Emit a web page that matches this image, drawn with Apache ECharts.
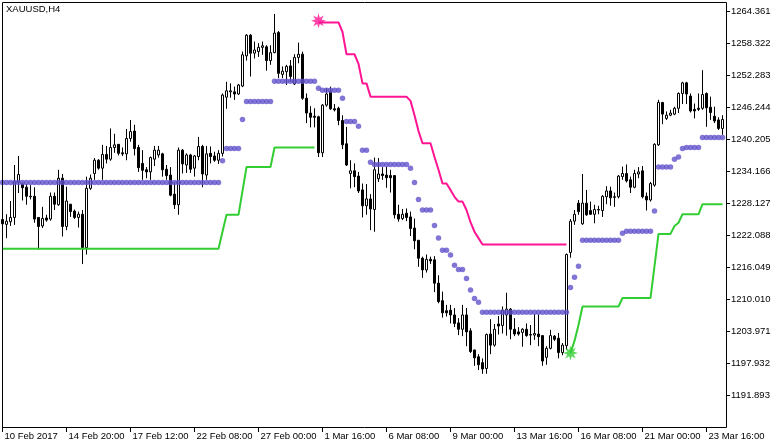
<!DOCTYPE html>
<html><head><meta charset="utf-8">
<script src="https://cdn.jsdelivr.net/npm/echarts@6/dist/echarts.min.js"></script>
<style>html,body{margin:0;padding:0;background:#fff;}#c{width:783px;height:447px;}</style>
</head><body><div id="c"></div>
<script>
const symbolName = 'XAUUSD,H4';
const dateLabels = ['10 Feb 2017','14 Feb 20:00','17 Feb 12:00','22 Feb 08:00','27 Feb 00:00','1 Mar 16:00','6 Mar 08:00','9 Mar 00:00','13 Mar 16:00','16 Mar 08:00','21 Mar 00:00','23 Mar 16:00'];
const labelStep = 16;
const priceTicks = [1191.893,1197.932,1203.971,1210.010,1216.049,1222.088,1228.127,1234.166,1240.205,1246.244,1252.283,1258.322,1264.361];
const priceMin = 1185.854;
const priceMax = 1265.871;

const open = [
1225.0,1224.1,1224.6,1225.4,1232.1,1231.7,1231.1,1229.4,1229.4,1225.4,
1223.8,1225.3,1225.1,1229.4,1227.8,1232.8,1223.7,1227.9,1226.6,1225.4,
1226.0,1219.7,1230.9,1233.7,1236.2,1234.7,1237.3,1236.4,1238.6,1239.2,
1237.6,1237.4,1240.3,1241.7,1238.6,1235.6,1234.4,1234.0,1236.4,1237.2,
1237.4,1234.5,1233.4,1229.8,1227.8,1238.1,1235.3,1237.2,1234.7,1236.9,
1238.8,1233.4,1237.5,1237.0,1236.2,1237.5,1248.1,1249.1,1249.1,1248.7,
1250.2,1255.9,1259.8,1256.4,1256.7,1257.5,1257.6,1255.0,1256.5,1260.3,
1252.4,1252.9,1254.0,1250.6,1255.6,1256.2,1247.9,1245.1,1244.5,1244.4,
1237.6,1246.6,1249.1,1245.9,1246.0,1243.7,1239.3,1233.7,1234.2,1233.2,
1230.6,1227.6,1228.9,1226.9,1232.7,1233.6,1233.4,1233.3,1233.3,1226.0,
1225.2,1226.2,1225.5,1223.4,1221.1,1217.7,1215.5,1217.5,1217.4,1213.0,
1209.7,1207.8,1207.9,1207.0,1205.5,1204.3,1207.0,1204.0,1200.4,1199.1,
1198.0,1196.9,1203.4,1201.3,1205.3,1205.0,1207.0,1208.1,1204.3,1203.8,
1203.7,1204.3,1203.3,1203.2,1203.4,1203.1,1199.0,1200.7,1203.0,1202.6,
1199.9,1201.2,1218.8,1224.7,1228.1,1224.2,1228.1,1226.7,1226.0,1226.9,
1226.7,1229.3,1230.4,1229.3,1229.3,1233.1,1233.7,1232.5,1231.1,1233.6,
1234.2,1229.4,1228.7,1231.5,1239.1,1247.1,1244.1,1244.7,1244.9,1246.0,
1248.8,1250.8,1248.3,1245.8,1246.0,1246.0,1248.8,1246.2,1244.5,1243.8,
1242.2];
const close = [
1224.2,1224.7,1225.4,1232.1,1233.5,1231.0,1229.4,1229.3,1225.1,1223.7,
1225.2,1224.9,1229.4,1227.9,1232.8,1223.7,1228.5,1226.5,1225.4,1226.0,
1219.7,1230.9,1232.8,1236.2,1234.7,1237.3,1236.4,1238.6,1239.1,1237.5,
1237.4,1240.3,1241.6,1238.4,1234.8,1234.3,1234.0,1236.7,1238.1,1238.1,
1234.4,1233.3,1229.6,1227.8,1238.1,1235.5,1237.2,1234.5,1237.0,1238.8,
1233.6,1237.4,1236.9,1236.2,1237.5,1248.5,1249.3,1249.3,1248.7,1250.4,
1256.1,1259.8,1256.4,1257.0,1257.5,1257.8,1255.0,1256.5,1260.2,1252.6,
1253.0,1253.9,1252.0,1255.6,1256.2,1247.9,1245.1,1244.3,1244.3,1237.6,
1246.6,1248.7,1245.9,1245.7,1243.7,1239.1,1235.3,1234.2,1233.1,1230.4,
1227.6,1228.9,1227.0,1234.4,1233.6,1233.3,1232.9,1232.9,1225.9,1225.1,
1226.0,1225.4,1223.3,1221.0,1217.7,1215.5,1217.5,1217.2,1213.0,1209.5,
1207.4,1207.4,1207.0,1205.4,1204.3,1207.0,1203.8,1200.1,1198.9,1197.6,
1196.8,1203.3,1201.3,1204.3,1204.9,1207.9,1208.1,1204.3,1203.4,1203.4,
1204.3,1203.1,1203.2,1203.5,1202.9,1198.3,1200.7,1203.1,1202.4,1199.9,
1201.3,1218.4,1224.7,1226.0,1226.5,1228.1,1225.9,1226.0,1226.9,1226.8,
1229.4,1230.4,1229.1,1229.2,1233.2,1233.7,1232.3,1231.1,1233.7,1234.0,
1229.3,1228.7,1231.8,1239.2,1247.1,1244.9,1244.7,1245.1,1246.0,1248.8,
1250.8,1248.7,1245.5,1245.5,1245.8,1248.6,1246.1,1245.2,1243.6,1242.2,
1243.9];
const low = [
1223.8,1221.5,1223.8,1224.0,1230.0,1228.6,1227.8,1228.8,1224.4,1219.3,
1223.4,1224.6,1224.8,1226.8,1227.6,1221.8,1223.0,1225.5,1225.1,1223.5,
1216.6,1218.4,1230.6,1232.5,1234.4,1232.5,1235.6,1236.1,1237.6,1237.1,
1237.0,1236.2,1239.7,1237.1,1234.0,1232.5,1232.8,1232.5,1235.1,1236.7,
1233.1,1232.5,1229.4,1227.0,1225.9,1233.7,1233.8,1233.8,1233.1,1236.2,
1231.1,1232.5,1235.6,1235.9,1235.5,1236.9,1245.9,1248.0,1247.6,1248.5,
1250.0,1255.0,1252.0,1255.4,1255.7,1256.1,1253.1,1254.2,1256.4,1251.7,
1251.7,1250.4,1251.0,1250.4,1254.5,1247.6,1243.2,1242.4,1242.4,1236.8,
1236.8,1246.3,1245.7,1245.4,1242.8,1238.3,1235.1,1230.9,1231.1,1230.0,
1225.4,1225.9,1223.0,1222.7,1232.1,1232.5,1231.0,1230.1,1225.2,1224.6,
1224.9,1224.7,1221.9,1219.4,1216.1,1214.0,1215.0,1216.6,1211.3,1209.2,
1206.5,1206.7,1205.4,1204.7,1203.2,1203.0,1201.1,1199.8,1197.4,1196.6,
1195.9,1195.9,1199.6,1201.0,1203.3,1203.5,1203.1,1202.4,1203.0,1203.1,
1201.0,1202.9,1201.3,1202.3,1201.1,1197.4,1197.6,1200.5,1202.1,1198.8,
1199.4,1200.4,1217.8,1224.0,1225.9,1224.0,1225.7,1225.9,1224.3,1226.0,
1225.5,1227.9,1227.6,1227.4,1229.0,1232.5,1232.0,1230.0,1230.9,1232.8,
1229.0,1226.7,1228.4,1231.2,1238.9,1243.0,1243.8,1244.5,1244.7,1245.1,
1246.8,1246.8,1245.2,1244.1,1245.5,1245.7,1242.5,1243.8,1243.2,1241.9,
1241.0];
const high = [
1225.3,1226.0,1228.5,1235.3,1237.0,1232.0,1231.7,1231.5,1231.1,1225.4,
1227.4,1225.9,1230.1,1230.1,1234.4,1233.6,1231.2,1227.9,1226.9,1226.5,
1226.8,1233.1,1233.5,1236.6,1236.4,1239.1,1238.9,1242.2,1241.2,1239.2,
1238.6,1242.1,1243.8,1242.9,1239.1,1238.1,1234.9,1236.9,1238.9,1238.9,
1237.6,1235.3,1234.9,1232.1,1238.6,1238.3,1237.5,1237.4,1237.2,1240.6,
1239.1,1238.9,1238.8,1237.8,1238.1,1248.8,1251.0,1250.7,1250.1,1250.6,
1256.7,1260.0,1260.0,1258.6,1258.3,1258.6,1257.9,1257.9,1263.8,1260.6,
1253.9,1254.2,1255.1,1256.2,1258.4,1256.7,1248.8,1246.4,1246.0,1244.6,
1246.8,1249.8,1250.1,1246.8,1246.3,1244.7,1242.5,1236.2,1235.6,1234.0,
1231.8,1231.7,1229.8,1236.7,1236.6,1234.9,1235.0,1234.4,1233.4,1227.8,
1227.0,1227.1,1226.5,1225.2,1221.1,1218.0,1218.4,1218.0,1218.1,1214.5,
1211.4,1208.9,1208.9,1208.3,1206.4,1208.9,1208.3,1204.5,1200.4,1199.6,
1198.8,1203.5,1206.2,1205.3,1206.8,1208.6,1211.2,1208.3,1206.4,1204.7,
1204.5,1205.4,1205.1,1207.2,1207.1,1203.1,1201.1,1204.2,1203.2,1203.6,
1201.7,1218.6,1225.1,1226.8,1228.7,1233.6,1230.6,1228.4,1227.8,1227.6,
1229.6,1231.3,1231.2,1230.1,1233.4,1235.0,1235.4,1233.1,1234.4,1234.9,
1235.1,1230.1,1232.1,1239.4,1247.6,1247.2,1245.4,1245.7,1246.3,1249.0,
1251.0,1251.0,1248.8,1246.9,1248.8,1253.2,1249.0,1248.2,1246.3,1244.3,
1244.7];

const stepDots = [
1232.0,1232.0,1232.0,1232.0,1232.0,1232.0,1232.0,1232.0,1232.0,1232.0,
1232.0,1232.0,1232.0,1232.0,1232.0,1232.0,1232.0,1232.0,1232.0,1232.0,
1232.0,1232.0,1232.0,1232.0,1232.0,1232.0,1232.0,1232.0,1232.0,1232.0,
1232.0,1232.0,1232.0,1232.0,1232.0,1232.0,1232.0,1232.0,1232.0,1232.0,
1232.0,1232.0,1232.0,1232.0,1232.0,1232.0,1232.0,1232.0,1232.0,1232.0,
1232.0,1232.0,1232.0,1232.0,1232.0,1236.1,1238.4,1238.4,1238.4,1238.4,
1243.9,1247.3,1247.3,1247.3,1247.3,1247.3,1247.3,1247.3,1251.1,1251.1,
1251.1,1251.1,1251.1,1251.1,1251.1,1251.1,1251.1,1251.1,1251.1,1249.8,
1249.4,1249.4,1249.4,1249.4,1249.4,1247.9,1243.5,1243.5,1243.5,1242.6,
1238.1,1238.1,1235.8,1235.4,1235.4,1235.4,1235.4,1235.4,1235.4,1235.4,
1235.4,1235.4,1234.7,1232.0,1228.8,1226.8,1226.8,1226.8,1223.9,1221.5,
1219.2,1219.2,1218.3,1216.4,1215.6,1215.6,1213.9,1211.7,1210.1,1209.4,
1207.5,1207.5,1207.5,1207.5,1207.5,1207.5,1207.5,1207.5,1207.5,1207.5,
1207.5,1207.5,1207.5,1207.5,1207.5,1207.5,1207.5,1207.5,1207.5,1207.5,
1207.5,1207.5,1212.2,1214.1,1216.2,1221.1,1221.1,1221.1,1221.1,1221.1,
1221.1,1221.1,1221.1,1221.1,1221.1,1222.4,1222.8,1222.8,1222.8,1222.8,
1222.8,1222.8,1222.8,1226.6,1234.9,1234.9,1234.9,1234.9,1236.4,1236.8,
1238.4,1238.6,1238.6,1238.6,1238.6,1240.5,1240.5,1240.5,1240.5,1240.5,
1240.5];

const greenStartA = 0;
const greenLineA = [
1219.5,1219.5,1219.5,1219.5,1219.5,1219.5,1219.5,1219.5,1219.5,1219.5,1219.5,
1219.5,1219.5,1219.5,1219.5,1219.5,1219.5,1219.5,1219.5,1219.5,1219.5,1219.5,
1219.5,1219.5,1219.5,1219.5,1219.5,1219.5,1219.5,1219.5,1219.5,1219.5,1219.5,
1219.5,1219.5,1219.5,1219.5,1219.5,1219.5,1219.5,1219.5,1219.5,1219.5,1219.5,
1219.5,1219.5,1219.5,1219.5,1219.5,1219.5,1219.5,1219.5,1219.5,1219.5,1219.5,
1222.7,1225.9,1225.9,1225.9,1225.9,1230.4,
1234.9,1234.9,1234.9,1234.9,1234.9,1234.9,1234.9,
1238.6,1238.6,1238.6,1238.6,1238.6,1238.6,1238.6,1238.6,1238.6,1238.6,1238.6];
const greenStartB = 142;
const greenLineB = [
1199.8,1202.1,1205.1,
1208.6,1208.6,1208.6,1208.6,1208.6,1208.6,1208.6,1208.6,1208.6,1208.6,
1210.2,1210.2,1210.2,1210.2,1210.2,1210.2,1210.2,1210.2,
1216.2,1222.3,1222.3,1222.3,1222.3,1223.8,1224.4,
1226.0,1226.0,1226.0,1226.0,1226.0,
1227.9,1227.9,1227.9,1227.9,1227.9,1227.9];
const pinkStart = 79;
const pinkLine = [
1262.2,1262.2,1262.2,1262.2,1262.2,1262.2,1260.4,1256.2,1256.2,1256.2,1254.4,
1250.7,1250.7,1248.2,1248.2,1248.2,1248.2,1248.2,1248.2,1248.2,1248.2,1248.2,1248.2,
1247.4,1244.7,1241.7,1239.4,1239.4,1239.4,1236.8,1234.4,
1231.8,1231.8,1230.6,1229.3,1228.4,1228.4,1226.8,1224.5,1222.7,1221.5,
1220.3,1220.3,1220.3,1220.3,1220.3,1220.3,1220.3,1220.3,1220.3,1220.3,1220.3,
1220.3,1220.3,1220.3,1220.3,1220.3,1220.3,1220.3,1220.3,1220.3,1220.3,1220.3];
const pinkStar = [79, 1262.5];
const greenStar = [142, 1199.8];

const N = open.length;
const cats = open.map((_, i) => String(i));
const candleData = open.map((o, i) => [o, close[i], low[i], high[i]]);
function segmentsToSeries(parts) {
  const d = new Array(N).fill(null);
  parts.forEach(([start, arr]) => arr.forEach((v, k) => { d[start + k] = v; }));
  return d;
}
const greenData = segmentsToSeries([[greenStartA, greenLineA], [greenStartB, greenLineB]]);
const pinkData = segmentsToSeries([[pinkStart, pinkLine]]);
const dotData = stepDots.map((v, i) => [i, v]);

function starPath(points, inner) {
  let d = '';
  for (let k = 0; k < points * 2; k++) {
    const r = k % 2 ? inner : 1;
    const a = Math.PI * k / points - Math.PI / 2;
    d += (k ? 'L' : 'M') + (r * Math.cos(a)).toFixed(3) + ' ' + (r * Math.sin(a)).toFixed(3);
  }
  return 'path://' + d + 'Z';
}
const STAR = starPath(8, 0.45);
const FONT = 'Liberation Sans';

const chart = echarts.init(document.getElementById('c'), null, {renderer: 'canvas'});
chart.setOption({
  animation: false,
  backgroundColor: '#ffffff',
  grid: {left: 0.5, top: 3, width: 724, height: 424, show: false},
  xAxis: {
    type: 'category', data: cats, boundaryGap: true,
    axisLine: {show: false},
    axisTick: {show: true, interval: labelStep - 1, alignWithLabel: true, length: 5, lineStyle: {color: '#000', width: 1}},
    axisLabel: {interval: labelStep - 1, align: 'left', margin: 4, color: '#000', fontFamily: FONT, fontSize: 9.5,
      padding: [0, 0, 0, 2],
      formatter: (v, i) => dateLabels[i / labelStep] || ''},
    splitLine: {show: false}
  },
  yAxis: {
    type: 'value', position: 'right', min: priceMin, max: priceMax, offset: 1.5,
    axisLine: {show: false},
    axisTick: {show: true, length: 4, customValues: priceTicks, lineStyle: {color: '#000', width: 1}},
    axisLabel: {customValues: priceTicks, margin: 5, color: '#000', fontFamily: FONT, fontSize: 9.5,
      formatter: v => Number(v).toFixed(3)},
    splitLine: {show: false}
  },
  graphic: [
    {type: 'rect', silent: true, z: 100, shape: {x: 2.5, y: 2.5, width: 724, height: 425},
     style: {fill: 'none', stroke: '#000', lineWidth: 1}},
    {type: 'text', silent: true, z: 100, left: 6, top: 4,
     style: {text: symbolName, fill: '#000', font: '9.5px "Liberation Sans"'}}
  ],
  series: [
    {type: 'candlestick', data: candleData, barWidth: 2, silent: true, z: 2,
     itemStyle: {color: '#ffffff', color0: '#000000', borderColor: '#000000', borderColor0: '#000000', borderColorDoji: '#000000', borderWidth: 1}},
    {type: 'line', data: greenData, showSymbol: false, connectNulls: false, silent: true, z: 3,
     lineStyle: {color: '#32cd32', width: 2}},
    {type: 'line', data: pinkData, showSymbol: false, connectNulls: false, silent: true, z: 3,
     lineStyle: {color: '#ff1493', width: 2}},
    {type: 'scatter', data: dotData, symbol: 'circle', symbolSize: 5.5, silent: true, z: 4,
     itemStyle: {color: '#6152cc'}},
    {type: 'scatter', data: [pinkStar], symbol: STAR, symbolSize: 15, silent: true, z: 5,
     itemStyle: {color: '#ff1493'}},
    {type: 'scatter', data: [greenStar], symbol: STAR, symbolSize: 15, silent: true, z: 5,
     itemStyle: {color: '#32cd32'}}
  ]
});
</script></body></html>
